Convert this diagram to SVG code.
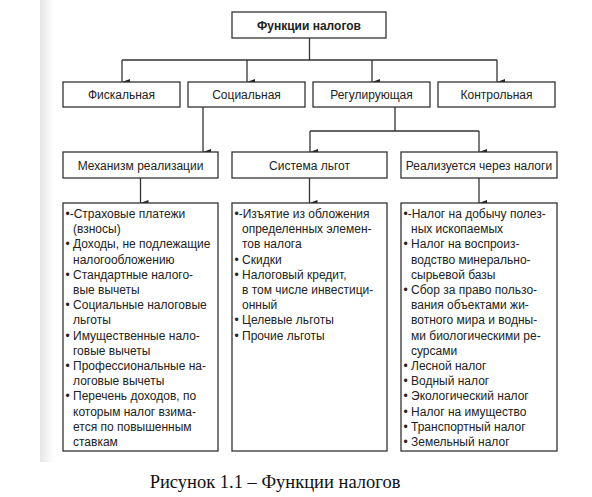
<svg xmlns="http://www.w3.org/2000/svg" width="592" height="497" viewBox="0 0 592 497">
<defs>
<linearGradient id="edge" x1="0" y1="0" x2="1" y2="0">
<stop offset="0" stop-color="#e6e6e6"/>
<stop offset="1" stop-color="#ffffff"/>
</linearGradient>
<marker id="arr" viewBox="0 0 6 8" refX="3" refY="8" markerWidth="6" markerHeight="8" markerUnits="userSpaceOnUse" orient="auto-start-reverse">
<path d="M0,0 L6,0 L3,8 Z" fill="#222"/>
</marker>
<style>
.box{fill:#fff;stroke:#333;stroke-width:1.3}
.t{font-family:"Liberation Sans",Arial,sans-serif;font-size:12px;fill:#222}
.c{text-anchor:middle}
.b{font-weight:bold}
.ln{fill:none;stroke:#333;stroke-width:1.3}
.cap{font-family:"Liberation Serif","Times New Roman",serif;font-size:18.5px;fill:#111;text-anchor:middle}
</style>
</defs>
<rect x="0" y="0" width="592" height="497" fill="#fff"/>
<rect x="40" y="0" width="14" height="462" fill="url(#edge)"/>

<g id="connectors">
<path class="ln" d="M309.5,38 V60 M122,60 H497"/>
<path class="ln" d="M122,60 V82" marker-end="url(#arr)"/>
<path class="ln" d="M247,60 V82" marker-end="url(#arr)"/>
<path class="ln" d="M372,60 V82" marker-end="url(#arr)"/>
<path class="ln" d="M497,60 V82" marker-end="url(#arr)"/>
<path class="ln" d="M203,107 V152" marker-end="url(#arr)"/>
<path class="ln" d="M395,107 V131 M310,131 H479"/>
<path class="ln" d="M310,131 V152" marker-end="url(#arr)"/>
<path class="ln" d="M479,131 V152" marker-end="url(#arr)"/>
<path class="ln" d="M140.5,178 V203" marker-end="url(#arr)"/>
<path class="ln" d="M309.5,178 V203" marker-end="url(#arr)"/>
<path class="ln" d="M479,178 V203" marker-end="url(#arr)"/>
</g>

<g id="root">
<rect class="box" x="232" y="12" width="154" height="26"/>
<text class="t c b" x="309" y="29.5">Функции налогов</text>
</g>

<g id="fiscal">
<rect class="box" x="63" y="82" width="117" height="25"/>
<text class="t c" x="121.5" y="98.5">Фискальная</text>
</g>
<g id="social">
<rect class="box" x="188" y="82" width="117" height="25"/>
<text class="t c" x="246.5" y="98.5">Социальная</text>
</g>
<g id="regulating">
<rect class="box" x="313" y="82" width="117" height="25"/>
<text class="t c" x="371.5" y="98.5">Регулирующая</text>
</g>
<g id="control">
<rect class="box" x="438" y="82" width="117" height="25"/>
<text class="t c" x="496.5" y="98.5">Контрольная</text>
</g>

<g id="mechanism">
<rect class="box" x="63" y="152" width="155" height="26"/>
<text class="t c" x="140.5" y="169.5">Механизм реализации</text>
</g>
<g id="benefits">
<rect class="box" x="232" y="152" width="155" height="26"/>
<text class="t c" x="309.5" y="169.5">Система льгот</text>
</g>
<g id="through-taxes">
<rect class="box" x="401" y="152" width="156" height="26"/>
<text class="t c" x="479" y="169.5">Реализуется через налоги</text>
</g>

<g id="list-mechanism">
<rect class="box" x="63" y="203" width="155" height="248"/>
<text class="t" x="65.5" y="218">•-Страховые платежи</text>
<text class="t" x="73" y="233.2">(взносы)</text>
<text class="t" x="65.5" y="248.4">• Доходы, не подлежащие</text>
<text class="t" x="73" y="263.6">налогообложению</text>
<text class="t" x="65.5" y="278.8">• Стандартные налого-</text>
<text class="t" x="73" y="294">вые вычеты</text>
<text class="t" x="65.5" y="309.2">• Социальные налоговые</text>
<text class="t" x="73" y="324.4">льготы</text>
<text class="t" x="65.5" y="339.6">• Имущественные нало-</text>
<text class="t" x="73" y="354.8">говые вычеты</text>
<text class="t" x="65.5" y="370">• Профессиональные на-</text>
<text class="t" x="73" y="385.2">логовые вычеты</text>
<text class="t" x="65.5" y="400.4">• Перечень доходов, по</text>
<text class="t" x="73" y="415.6">которым налог взима-</text>
<text class="t" x="73" y="430.8">ется по повышенным</text>
<text class="t" x="73" y="446">ставкам</text>
</g>

<g id="list-benefits">
<rect class="box" x="232" y="203" width="155" height="248"/>
<text class="t" x="234.5" y="218">•-Изъятие из обложения</text>
<text class="t" x="242" y="233.2">определенных элемен-</text>
<text class="t" x="242" y="248.4">тов налога</text>
<text class="t" x="234.5" y="263.6">• Скидки</text>
<text class="t" x="234.5" y="278.8">• Налоговый кредит,</text>
<text class="t" x="242" y="294">в том числе инвестици-</text>
<text class="t" x="242" y="309.2">онный</text>
<text class="t" x="234.5" y="324.4">• Целевые льготы</text>
<text class="t" x="234.5" y="339.6">• Прочие льготы</text>
</g>

<g id="list-taxes">
<rect class="box" x="401" y="203" width="156" height="248"/>
<text class="t" x="403.5" y="218">•-Налог на добычу полез-</text>
<text class="t" x="411" y="233.2">ных ископаемых</text>
<text class="t" x="403.5" y="248.4">• Налог на воспроиз-</text>
<text class="t" x="411" y="263.6">водство минерально-</text>
<text class="t" x="411" y="278.8">сырьевой базы</text>
<text class="t" x="403.5" y="294">• Сбор за право пользо-</text>
<text class="t" x="411" y="309.2">вания объектами жи-</text>
<text class="t" x="411" y="324.4">вотного мира и водны-</text>
<text class="t" x="411" y="339.6">ми биологическими ре-</text>
<text class="t" x="411" y="354.8">сурсами</text>
<text class="t" x="403.5" y="370">• Лесной налог</text>
<text class="t" x="403.5" y="385.2">• Водный налог</text>
<text class="t" x="403.5" y="400.4">• Экологический налог</text>
<text class="t" x="403.5" y="415.6">• Налог на имущество</text>
<text class="t" x="403.5" y="430.8">• Транспортный налог</text>
<text class="t" x="403.5" y="446">• Земельный налог</text>
</g>

<text class="cap" x="275" y="488">Рисунок 1.1 – Функции налогов</text>
</svg>
